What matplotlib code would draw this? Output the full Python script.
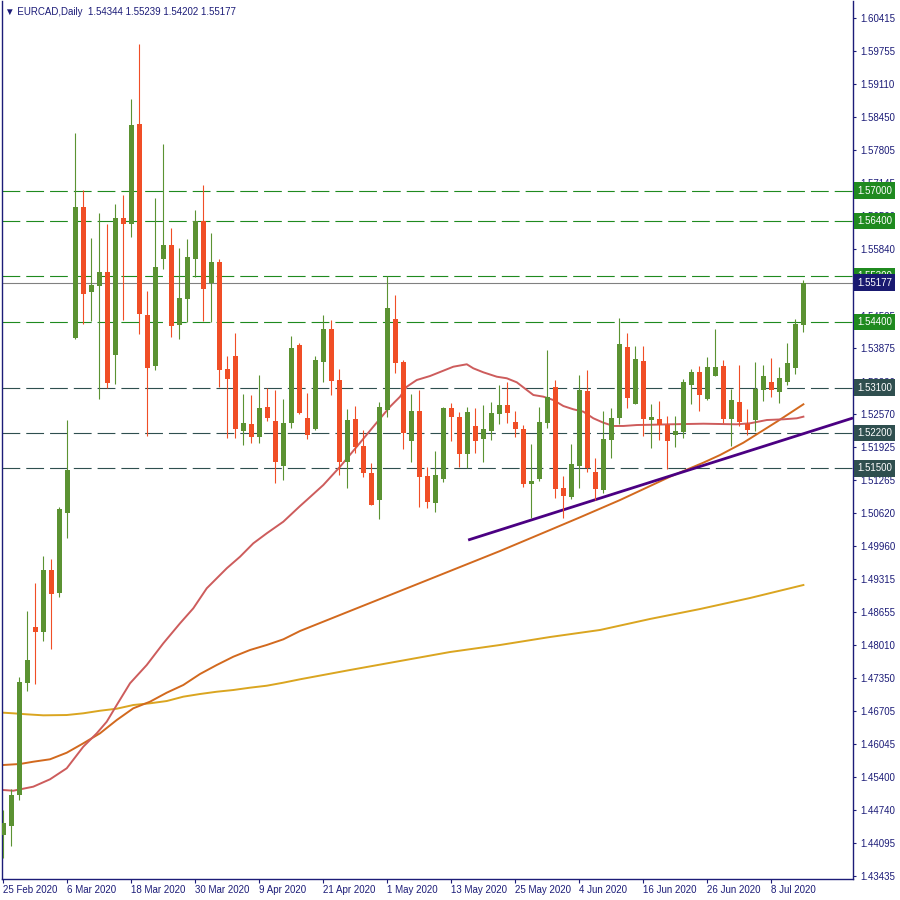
import matplotlib
matplotlib.use('Agg')
import matplotlib.pyplot as plt
import matplotlib.transforms as mtransforms
import numpy as np

plt.rcParams['font.family'] = ['Liberation Sans', 'DejaVu Sans']

NAVY, GREEN_BAR, RED_BAR = '#1c1c78', '#5b9232', '#f04e26'
LVL_GREEN, LVL_DARK, LAST_GRAY = '#1f8a1f', '#2f4f4f', '#808080'

# ---- data (EURCAD daily, 25 Feb 2020 .. 14 Jul 2020) ----------------------
DATE_LABELS = ['25 Feb 2020', '6 Mar 2020', '18 Mar 2020', '30 Mar 2020', '9 Apr 2020',
               '21 Apr 2020', '1 May 2020', '13 May 2020', '25 May 2020', '4 Jun 2020',
               '16 Jun 2020', '26 Jun 2020', '8 Jul 2020']
DATE_BARS = [0, 8, 16, 24, 32, 40, 48, 56, 64, 72, 80, 88, 96]

OPEN = [1.44246, 1.44425, 1.45038, 1.47260, 1.48357, 1.48270, 1.49491, 1.49042, 1.50625, 1.54088,
        1.56675, 1.54999, 1.55117, 1.55388, 1.53746, 1.56451, 1.56344, 1.58317, 1.54540, 1.53534,
        1.55646, 1.55923, 1.54346, 1.54860, 1.55646, 1.56398, 1.55165, 1.55586, 1.53469, 1.53726,
        1.52249, 1.52375, 1.52117, 1.52717, 1.52440, 1.51555, 1.52395, 1.53944, 1.52499, 1.52287,
        1.53613, 1.54260, 1.53251, 1.51634, 1.52479, 1.51945, 1.51417, 1.50876, 1.52657, 1.54458,
        1.53607, 1.52050, 1.52638, 1.51351, 1.50811, 1.51298, 1.52691, 1.52519, 1.51793, 1.52341,
        1.52089, 1.52248, 1.52584, 1.52756, 1.52420, 1.52281, 1.51199, 1.51298, 1.52406, 1.53112,
        1.51120, 1.50942, 1.51555, 1.53033, 1.51430, 1.51074, 1.52064, 1.52505, 1.53904, 1.52782,
        1.53627, 1.52466, 1.52479, 1.52361, 1.52163, 1.52228, 1.53158, 1.53409, 1.52881, 1.53336,
        1.53528, 1.52485, 1.52816, 1.52387, 1.52466, 1.53059, 1.53211, 1.53020, 1.53217, 1.53495,
        1.54344]
HIGH = [1.44741, 1.45151, 1.47367, 1.48680, 1.49240, 1.49768, 1.49703, 1.50732, 1.52459, 1.58133,
        1.57011, 1.56061, 1.56562, 1.56338, 1.56734, 1.56912, 1.58812, 1.59900, 1.55012, 1.56853,
        1.57922, 1.56259, 1.55863, 1.56041, 1.56615, 1.57110, 1.56160, 1.55646, 1.53726, 1.54181,
        1.52974, 1.52954, 1.53350, 1.53087, 1.53053, 1.52875, 1.54122, 1.53983, 1.52994, 1.53726,
        1.54540, 1.54439, 1.53469, 1.52677, 1.52737, 1.52262, 1.51615, 1.52816, 1.55309, 1.54933,
        1.53647, 1.52974, 1.53053, 1.51536, 1.51846, 1.52723, 1.52802, 1.52617, 1.52717, 1.52697,
        1.52756, 1.52816, 1.53152, 1.53217, 1.52638, 1.52355, 1.51985, 1.52717, 1.53845, 1.53251,
        1.51351, 1.51985, 1.53350, 1.53449, 1.51707, 1.52638, 1.52697, 1.54472, 1.54181, 1.53924,
        1.53924, 1.52776, 1.52836, 1.52539, 1.52539, 1.53271, 1.53469, 1.53528, 1.53706, 1.54260,
        1.53647, 1.53073, 1.53548, 1.52677, 1.53607, 1.53548, 1.53687, 1.53508, 1.53983, 1.54458,
        1.55239]
LOW = [1.43785, 1.44029, 1.44939, 1.47103, 1.47235, 1.48092, 1.47922, 1.48963, 1.50130, 1.54057,
       1.54359, 1.54425, 1.52869, 1.53099, 1.53172, 1.54439, 1.56087, 1.54161, 1.52143, 1.53449,
       1.55448, 1.54108, 1.54068, 1.54393, 1.55296, 1.54425, 1.54393, 1.53119, 1.52109, 1.52109,
       1.51966, 1.51999, 1.52010, 1.52446, 1.51207, 1.51272, 1.52295, 1.52578, 1.52089, 1.52267,
       1.53217, 1.52960, 1.51377, 1.51120, 1.51812, 1.51338, 1.50783, 1.50506, 1.52525, 1.53395,
       1.51891, 1.51628, 1.50744, 1.50724, 1.50645, 1.51239, 1.52050, 1.51536, 1.51516, 1.51812,
       1.51634, 1.52064, 1.52381, 1.52406, 1.52129, 1.51140, 1.50526, 1.51258, 1.52307, 1.50921,
       1.50526, 1.50902, 1.51108, 1.51436, 1.50876, 1.51021, 1.51713, 1.52381, 1.52703, 1.52782,
       1.52149, 1.51911, 1.52070, 1.51484, 1.51931, 1.52109, 1.52782, 1.52643, 1.52861, 1.53336,
       1.52406, 1.51951, 1.52346, 1.52169, 1.52248, 1.52842, 1.52921, 1.52802, 1.53158, 1.53376,
       1.54202]
CLOSE = [1.44478, 1.45038, 1.47268, 1.47710, 1.48270, 1.49491, 1.49022, 1.50698, 1.51470, 1.56675,
         1.54959, 1.55131, 1.55388, 1.53198, 1.56451, 1.56344, 1.58298, 1.54557, 1.53495, 1.55487,
         1.55923, 1.54326, 1.54874, 1.55685, 1.56398, 1.55052, 1.55586, 1.53449, 1.53271, 1.52275,
         1.52395, 1.52117, 1.52691, 1.52505, 1.51634, 1.52395, 1.53878, 1.52604, 1.52168, 1.53647,
         1.54260, 1.53237, 1.51628, 1.52459, 1.51931, 1.51417, 1.50783, 1.52723, 1.54682, 1.53593,
         1.52196, 1.52638, 1.51338, 1.50843, 1.51371, 1.52703, 1.52525, 1.51793, 1.52617, 1.52050,
         1.52281, 1.52598, 1.52756, 1.52604, 1.52281, 1.51199, 1.51252, 1.52420, 1.52915, 1.51100,
         1.50961, 1.51589, 1.53053, 1.51516, 1.51100, 1.52084, 1.52499, 1.53964, 1.52901, 1.53667,
         1.52485, 1.52519, 1.52361, 1.52050, 1.52242, 1.53211, 1.53409, 1.52960, 1.53508, 1.53508,
         1.52485, 1.52855, 1.52426, 1.52268, 1.53079, 1.53330, 1.53059, 1.53290, 1.53587, 1.54359,
         1.55177]

# moving averages (bar index, price)
MA_FAST_BARS = [0, 1.25, 3.75, 5.84, 7.93, 10, 11.68, 12.93, 14.18, 15.84, 17.93, 20, 22.09, 23.75,
                25.43, 27.93, 29.59, 31.25, 32.93, 35, 37.09, 37.93, 40, 42.09, 44.18, 46.25, 48.34,
                49.59, 50.43, 51.68, 53.34, 55, 56.25, 57.93, 58.75, 60, 61.68, 62.93, 64.18, 65.43,
                66.25, 67.5, 68.75, 70, 71.25, 72.5, 73.75, 75, 76.25, 77.5, 79.18, 81.25, 83.34,
                85.43, 87.5, 89.59, 91.68, 93.34, 95.43, 97.5, 99.18, 100]
MA_FAST = [1.45137, 1.45123, 1.45203, 1.45349, 1.45567, 1.45994, 1.46259, 1.46489, 1.46819, 1.47249,
           1.47611, 1.48040, 1.48436, 1.48733, 1.49129, 1.49525, 1.49754, 1.50019, 1.50217, 1.50447,
           1.50757, 1.50876, 1.51173, 1.51535, 1.51931, 1.52327, 1.52723, 1.52921, 1.53118, 1.53251,
           1.53330, 1.53435, 1.53514, 1.53562, 1.53482, 1.53403, 1.53316, 1.53285, 1.53205, 1.53053,
           1.52954, 1.52921, 1.52855, 1.52736, 1.52671, 1.52624, 1.52493, 1.52406, 1.52341, 1.52341,
           1.52360, 1.52366, 1.52374, 1.52380, 1.52386, 1.52380, 1.52374, 1.52394, 1.52459, 1.52473,
           1.52493, 1.52525]
MA_MID_BARS = [0, 2.09, 3.75, 5.84, 7.93, 10, 12.09, 14.18, 16.25, 18.34, 20.43, 22.5, 24.59, 26.68,
               28.75, 30.84, 32.93, 35, 37.09, 43.34, 49.59, 55.84, 62.09, 68.34, 72.09, 77.09,
               83.34, 87.5, 89.59, 92.5, 96.68, 100]
MA_MID = [1.45632, 1.45652, 1.45697, 1.45745, 1.45875, 1.46061, 1.46259, 1.46522, 1.46754, 1.46885,
          1.47063, 1.47215, 1.47433, 1.47611, 1.47775, 1.47908, 1.48007, 1.48119, 1.48284, 1.48680,
          1.49075, 1.49471, 1.49867, 1.50283, 1.50534, 1.50876, 1.51338, 1.51615, 1.51767, 1.52010,
          1.52426, 1.52770]
MA_SLOW_BARS = [0, 1.25, 2.93, 5, 7.93, 10, 12.09, 14.18, 16.25, 18.34, 20.43, 22.5, 24.59, 26.68,
                28.75, 30.84, 32.93, 35, 37.09, 43.34, 49.59, 55.84, 62.09, 68.34, 74.59, 80.84,
                87.09, 93.34, 100]
MA_SLOW = [1.46667, 1.46655, 1.46635, 1.46615, 1.46621, 1.46655, 1.46706, 1.46746, 1.46819, 1.46853,
           1.46898, 1.46984, 1.47037, 1.47082, 1.47116, 1.47162, 1.47201, 1.47261, 1.47328, 1.47512,
           1.47690, 1.47868, 1.48007, 1.48165, 1.48304, 1.48522, 1.48719, 1.48937, 1.49194]

TREND_BARS = [58.1, 100]
TREND_PRICES = [1.50084, 1.52188]

LEVELS_GREEN = [1.57000, 1.56400, 1.55300, 1.54400]
LEVELS_DARK = [1.53100, 1.52200, 1.51500]
LAST_PRICE = 1.55177

PRICE_TICKS = [1.60415, 1.59755, 1.59110, 1.58450, 1.57805, 1.57145, 1.56500, 1.55840, 1.55180,
               1.54525, 1.53875, 1.53220, 1.52570, 1.51925, 1.51265, 1.50620, 1.49960, 1.49315,
               1.48655, 1.48010, 1.47350, 1.46705, 1.46045, 1.45400, 1.44740, 1.44095, 1.43435]

# ---- figure -----------------------------------------------------------------
fig = plt.figure(figsize=(9, 9), dpi=100)
fig.patch.set_facecolor('white')
ax = fig.add_axes([2 / 900, 21 / 900, 851 / 900, 878 / 900])
ax.set_xlim(-0.16, 106.2)
ax.set_ylim(1.43376, 1.60751)

# levels
dash = (16, 5.4)
for lv in LEVELS_GREEN:
    ax.axhline(lv, color=LVL_GREEN, lw=0.8, dashes=dash, zorder=1)
for lv in LEVELS_DARK:
    ax.axhline(lv, color=LVL_DARK, lw=0.8, dashes=dash, zorder=1)
ax.axhline(LAST_PRICE, color=LAST_GRAY, lw=0.8, zorder=1)

# moving averages
ax.plot(MA_SLOW_BARS, MA_SLOW, color='#daa520', lw=1.4, zorder=2)
ax.plot(MA_MID_BARS, MA_MID, color='#d2691e', lw=1.4, zorder=2)
ax.plot(MA_FAST_BARS, MA_FAST, color='#cd5c5c', lw=1.4, zorder=2)

# trendline (ray to the right edge)
slope = (TREND_PRICES[1] - TREND_PRICES[0]) / (TREND_BARS[1] - TREND_BARS[0])
x_end = ax.get_xlim()[1]
ax.plot([TREND_BARS[0], x_end], [TREND_PRICES[0], TREND_PRICES[0] + slope * (x_end - TREND_BARS[0])],
        color='#4b0082', lw=2.0, zorder=2, solid_capstyle='butt')

# candles
o, h, l, c = map(np.array, (OPEN, HIGH, LOW, CLOSE))
idx = np.arange(len(o))
colors = np.where(c >= o, GREEN_BAR, RED_BAR)
ax.vlines(idx, l, h, colors=colors, lw=0.8, zorder=3)
body_lo = np.minimum(o, c)
body_h = np.maximum(np.abs(c - o), 0.0002)
ax.bar(idx, body_h, bottom=body_lo, width=0.6, color=colors, lw=0, zorder=4)

# axes styling
for side in ['left', 'bottom', 'right']:
    ax.spines[side].set_color(NAVY)
    ax.spines[side].set_linewidth(1.0)
ax.spines['top'].set_visible(False)
ax.yaxis.tick_right()
ax.set_yticks(PRICE_TICKS)
ax.set_yticklabels([f'{v:.5f}' for v in PRICE_TICKS])
ax.tick_params(axis='y', direction='out', length=2.5, width=0.8, color=NAVY,
               labelcolor=NAVY, labelsize=7, pad=3)
ax.set_xticks(DATE_BARS)
ax.set_xticklabels(DATE_LABELS, ha='left')
ax.tick_params(axis='x', direction='out', length=3, width=0.8, color=NAVY,
               labelcolor=NAVY, labelsize=7, pad=1.5)

# price boxes on the right axis
trans = mtransforms.blended_transform_factory(ax.transAxes, ax.transData)
boxes = [(lv, LVL_GREEN) for lv in LEVELS_GREEN] + [(lv, LVL_DARK) for lv in LEVELS_DARK] \
    + [(LAST_PRICE, '#191970')]
for lv, col in boxes:
    ax.text(1 + 4 / 851, lv, f'{lv:.5f}', transform=trans, ha='left', va='center',
            fontsize=7, color='white', zorder=10, clip_on=False,
            bbox=dict(boxstyle='square,pad=0.33', fc=col, ec='none'))

# header
fig.text(5 / 900, 1 - 12 / 900, '\u25bc EURCAD,Daily  1.54344 1.55239 1.54202 1.55177',
         fontsize=7, color=NAVY, va='center', ha='left')

fig.savefig('out.png', dpi=100, facecolor='white')
